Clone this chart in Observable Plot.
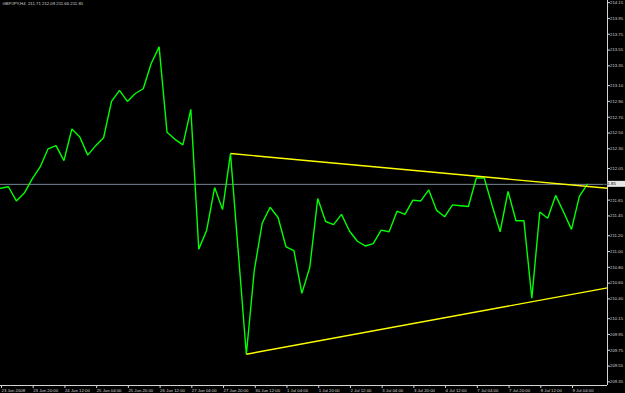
<!DOCTYPE html>
<html><head><meta charset="utf-8">
<script src="https://cdn.jsdelivr.net/npm/d3@7"></script>
<script src="https://cdn.jsdelivr.net/npm/@observablehq/plot@0.6"></script>
<style>html,body{margin:0;padding:0;background:#000;overflow:hidden}</style>
</head><body><div id="chart"></div>
<script>
const symbolHeader = "GBPJPY,H4  211.71 212.09 211.66 211.85";

// H4 closes, one per bar (bar index 0 = 23 Jun 2008 00:00)
const closes = [
  211.80, 211.82, 211.64, 211.74, 211.92, 212.07, 212.30, 212.34, 212.15, 212.55,
  212.45, 212.22, 212.34, 212.44, 212.90, 213.04, 212.90, 213.00, 213.06, 213.38,
  213.59, 212.51, 212.42, 212.35, 212.80, 211.03, 211.27, 211.81, 211.53, 212.24,
  210.97, 209.70, 210.76, 211.36, 211.56, 211.43, 211.06, 211.01, 210.47, 210.80,
  211.67, 211.38, 211.34, 211.47, 211.26, 211.13, 211.07, 211.10, 211.27, 211.25,
  211.51, 211.47, 211.65, 211.64, 211.78, 211.52, 211.44, 211.59, 211.58, 211.57,
  211.93, 211.93, 211.58, 211.25, 211.76, 211.39, 211.39, 210.41, 211.50, 211.42,
  211.71, 211.50, 211.28, 211.70, 211.85
];

const dateTickLabels = [
  "23 Jun 2008", "23 Jun 20:00", "24 Jun 12:00", "25 Jun 04:00", "25 Jun 20:00",
  "26 Jun 12:00", "27 Jun 04:00", "27 Jun 20:00", "30 Jun 12:00", "1 Jul 04:00",
  "1 Jul 20:00", "2 Jul 12:00", "3 Jul 04:00", "3 Jul 20:00", "4 Jul 12:00",
  "7 Jul 04:00", "7 Jul 20:00", "8 Jul 12:00", "9 Jul 04:00"
];
const barsPerDateTick = 4;

const priceTicks = [
  214.15, 213.95, 213.75, 213.55, 213.35, 213.10, 212.90, 212.70, 212.50, 212.30,
  212.05, 211.85, 211.65, 211.45, 211.20, 211.00, 210.80, 210.60, 210.40, 210.15,
  209.95, 209.75, 209.55, 209.35
];

const bidPrice = 211.85;

// visible window (bar index, price)
const xDomain = [0, 76.54];
const yDomain = [209.304, 214.177];

// trend lines: start bar/price, end price at right edge of window
const trendStartBar = [29, 31];
const trendStartPrice = [212.24, 209.70];
const trendEndPrice = [211.80, 210.54];

const series = closes.map((c, i) => ({i, c}));
const trendSegments = trendStartBar.map((b, k) => ({
  x1: b, y1: trendStartPrice[k], x2: xDomain[1], y2: trendEndPrice[k]
}));
const dateTickBars = dateTickLabels.map((_, k) => k * barsPerDateTick);
// the bid label replaces the ordinary tick label at the bid price
const axisPriceTicks = priceTicks.filter(p => Math.abs(p - bidPrice) > 1e-9);

const axisColor = "#d4d4d4";
const fontSize = 4.3;

function bidLabel(index, scales, values, dimensions) {
  const y = scales.y(bidPrice);
  const x = dimensions.width - dimensions.marginRight;
  const g = d3.create("svg:g");
  g.append("line")
    .attr("x1", x).attr("x2", x + 2).attr("y1", y).attr("y2", y)
    .attr("stroke", axisColor);
  g.append("rect")
    .attr("x", x + 1).attr("y", y - 3)
    .attr("width", dimensions.marginRight - 1).attr("height", 6)
    .attr("fill", "#e6e6e6");
  g.append("text")
    .attr("x", x + 2.5).attr("y", y).attr("dy", "0.32em")
    .attr("font-size", fontSize).attr("font-family", "Liberation Sans").attr("fill", "#000")
    .text(bidPrice.toFixed(2));
  return g.node();
}

const chart = Plot.plot({
  width: 625,
  height: 393,
  marginLeft: 0,
  marginTop: 0,
  marginRight: 18,
  marginBottom: 8,
  style: {background: "#000", color: axisColor, fontFamily: "Liberation Sans", fontSize: fontSize + "px"},
  x: {domain: xDomain, axis: null},
  y: {domain: yDomain, axis: null},
  marks: [
    Plot.ruleY([bidPrice], {stroke: "#778899", strokeWidth: 1}),
    Plot.line(series, {x: "i", y: "c", stroke: "#00ff00", strokeWidth: 1.4, strokeLinejoin: "miter"}),
    Plot.link(trendSegments, {x1: "x1", y1: "y1", x2: "x2", y2: "y2", stroke: "#ffff00", strokeWidth: 1.4}),
    Plot.ruleX([xDomain[1]], {stroke: axisColor, strokeWidth: 1}),
    Plot.ruleY([yDomain[0]], {stroke: axisColor, strokeWidth: 1}),
    Plot.axisY(axisPriceTicks, {
      anchor: "right", tickSize: 2, tickPadding: 0.5, label: null,
      tickFormat: d => d.toFixed(2), stroke: axisColor, fill: axisColor, fontSize
    }),
    Plot.axisX(dateTickBars, {
      anchor: "bottom", tickSize: 3, tickPadding: 0, label: null,
      tickFormat: d => dateTickLabels[d / barsPerDateTick],
      textAnchor: "start", dx: 1, stroke: axisColor, fill: axisColor, fontSize
    }),
    bidLabel,
    Plot.text([symbolHeader], {
      frameAnchor: "top-left", text: d => d, dx: 2, dy: 1.5,
      fill: axisColor, fontSize, lineAnchor: "top"
    })
  ]
});
document.getElementById("chart").appendChild(chart);
</script>
</body></html>
